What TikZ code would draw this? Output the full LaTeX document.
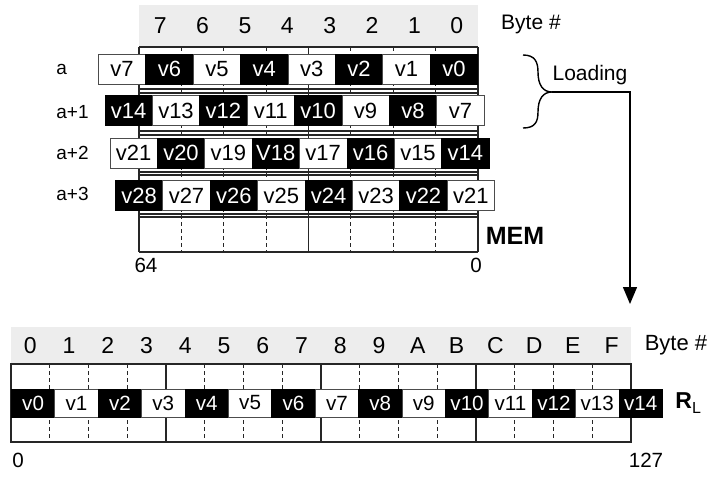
\documentclass[tikz,border=0pt]{standalone}
\usepackage{fontspec}
\setmainfont{Liberation Sans}
\usetikzlibrary{arrows.meta}
\begin{document}
\begin{tikzpicture}[x=0.5pt,y=-0.5pt,
  gridline/.style={line width=0.6pt, draw=black!85},
  dashline/.style={line width=0.5pt, draw=black!85, dash pattern=on 2pt off 1.5pt},
  cellB/.style={fill=black, draw=black, text=white, inner sep=0pt, anchor=west, line width=0.4pt},
  cellW/.style={fill=white, draw=black!70, text=black, inner sep=0pt, anchor=west, line width=0.4pt},
  topcell/.style={minimum width=23.7pt, minimum height=15pt, font=\fontsize{11}{12}\selectfont},
  botcell/.style={minimum width=21.7pt, minimum height=14pt, font=\fontsize{10.3}{12}\selectfont},
  lbl/.style={inner sep=0pt, font=\fontsize{10.5}{12}\selectfont},
  hlbl/.style={inner sep=0pt, text height=8.2pt, text depth=0pt, font=\fontsize{11.5}{12}\selectfont},
  blbl/.style={inner sep=0pt, font=\fontsize{10.3}{12}\selectfont},
  rowlbl/.style={inner sep=0pt, anchor=west, font=\fontsize{9.5}{12}\selectfont},
  curve/.style={line width=0.7pt, draw=black},
]
\useasboundingbox (0,0) rectangle (719,477);
\fill[white] (0,0) rectangle (719,477);

% ---------- top (MEM) ----------
\fill[black!7] (139,5) rectangle (478,47);
\foreach \i in {0,...,7} {
  \pgfmathsetmacro\xc{139+42.375*(\i+0.5)}
  \pgfmathtruncatemacro\b{7-\i}
  \node[hlbl] (tb\b) at (\xc,25) {\b};
}
\node[lbl] (tbyte) at (531,24) {Byte \#};

\foreach \y in {47,89,93,131,135,172,175,214,217,252}
  \draw[gridline] (139,\y) -- (478,\y);
\foreach \i in {1,2,3,5,6,7} {
  \pgfmathsetmacro\xv{139+42.375*\i}
  \draw[dashline] (\xv,47) -- (\xv,252);
}
\draw[gridline] (139,47) -- (139,252);
\draw[gridline] (308.5,47) -- (308.5,252);
\draw[gridline] (478,47) -- (478,252);

\foreach \r/\x/\y in {0/98/69,1/104.5/110.5,2/109.5/153,3/115/195.5} {
  \foreach \k in {0,...,7} {
    \pgfmathtruncatemacro\n{7*(\r+1)-\k}
    \pgfmathtruncatemacro\ev{mod(\n,2)}
    \ifnum\ev=0 \def\sty{cellB}\else\def\sty{cellW}\fi
    \ifnum\n=18 \def\txt{V18}\else\def\txt{v\n}\fi
    \node[\sty,topcell] (t\r-\k) at ({\x+47.4*\k},\y) {\txt};
  }
}
\node[rowlbl] (la0) at (56,69) {a};
\node[rowlbl] (la1) at (56,112) {a+1};
\node[rowlbl] (la2) at (56,153) {a+2};
\node[rowlbl] (la3) at (56,194) {a+3};
\node[inner sep=0pt, font=\fontsize{12.5}{14}\selectfont\bfseries] (mem) at (515,236) {MEM};
\node[blbl] (t64) at (146,265) {64};
\node[blbl] (t0) at (476,265) {0};

% brace and arrow
\draw[curve] (523,55) .. controls (535,55) and (538,62) .. (538,72)
  .. controls (538,85) and (543,92) .. (552,92)
  .. controls (543,92) and (538,99) .. (538,112)
  .. controls (538,122) and (535,128) .. (523,128);
\node[lbl] (load) at (590,75) {Loading};
\coordinate (tip) at (552,92);
\coordinate (corner) at (630,92);
\coordinate (aend) at (630,304);
\draw[line width=0.7pt, -{Triangle[width=7pt,length=8.5pt]}] (tip) -- (corner) -- (aend);

% ---------- bottom (RL) ----------
\fill[black!7] (11,327) rectangle (631,364);
\foreach \i/\h in {0/0,1/1,2/2,3/3,4/4,5/5,6/6,7/7,8/8,9/9,10/A,11/B,12/C,13/D,14/E,15/F} {
  \pgfmathsetmacro\xc{11+38.75*(\i+0.5)}
  \node[hlbl] (bb\i) at (\xc,345) {\h};
}
\node[inner sep=0pt, font=\fontsize{11}{12}\selectfont] (bbyte) at (676,345) {Byte \#};

\foreach \i in {1,...,15} {
  \pgfmathsetmacro\xv{11+38.75*\i}
  \pgfmathtruncatemacro\m{mod(\i,4)}
  \ifnum\m=0
    \draw[gridline] (\xv,364) -- (\xv,442);
  \else
    \draw[dashline] (\xv,364) -- (\xv,442);
  \fi
}
\draw[gridline] (11,364) rectangle (631,442);

\foreach \k in {0,...,14} {
  \pgfmathtruncatemacro\ev{mod(\k,2)}
  \ifnum\ev=0 \def\sty{cellB}\else\def\sty{cellW}\fi
  \node[\sty,botcell] (b\k) at ({11+43.4*\k},403) {v\k};
}
\node[inner sep=0pt, anchor=west] (rl) at (675,403)
  {\fontsize{11.5}{13}\selectfont\bfseries R\raisebox{-0.35ex}{\fontsize{8}{9}\selectfont\mdseries L}};
\node[blbl] (b0lbl) at (18,460) {0};
\node[blbl] (b127) at (646,460) {127};
\end{tikzpicture}
\end{document}
